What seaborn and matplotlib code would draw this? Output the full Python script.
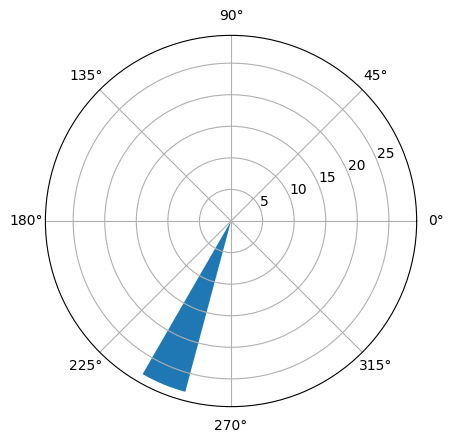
import numpy as np
import matplotlib
matplotlib.use("Agg")
import matplotlib.pyplot as plt
import seaborn as sns

# data: one wind-rose style sector
directions_deg = [247.5]   # centre of the sector
widths_deg = [15.0]
counts = [28.0]

color = sns.color_palette()[0]

fig = plt.figure(figsize=(4.53, 4.42), dpi=100)
ax = fig.add_axes([0.1, 0.08, 0.82, 0.84], projection="polar")

ax.bar(np.deg2rad(directions_deg), counts, width=np.deg2rad(widths_deg), color=color)

fig.savefig("out.png", dpi=100)
